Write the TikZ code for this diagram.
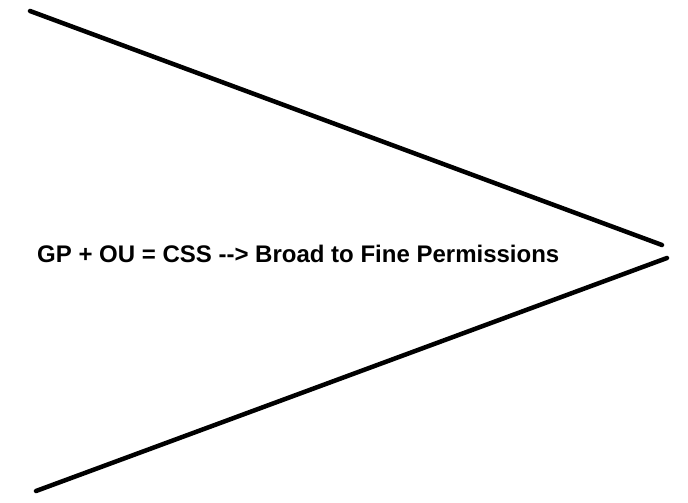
\documentclass[tikz,border=0pt]{standalone}
\usepackage{fontspec}
\setmainfont{Liberation Sans}
\usetikzlibrary{positioning}

\begin{document}
\begin{tikzpicture}[x=1pt,y=-1pt,line cap=round,
  funnel/.style={line width=4.5pt,black},
  caption/.style={font=\bfseries\fontsize{24}{28}\selectfont,inner sep=0pt,anchor=west}]
%%
\useasboundingbox (0,0) rectangle (688,503);
\coordinate (top_start) at (30,11);
\coordinate (top_end) at (662,245);
\coordinate (bot_start) at (36,491);
\coordinate (bot_end) at (667,258);
\node (label) at (37,254) [caption] {GP + OU = CSS -{}-> Broad to Fine Permissions};
\draw [funnel] (top_start) -- (top_end);
\draw [funnel] (bot_start) -- (bot_end);
%
\end{tikzpicture}
\end{document}
